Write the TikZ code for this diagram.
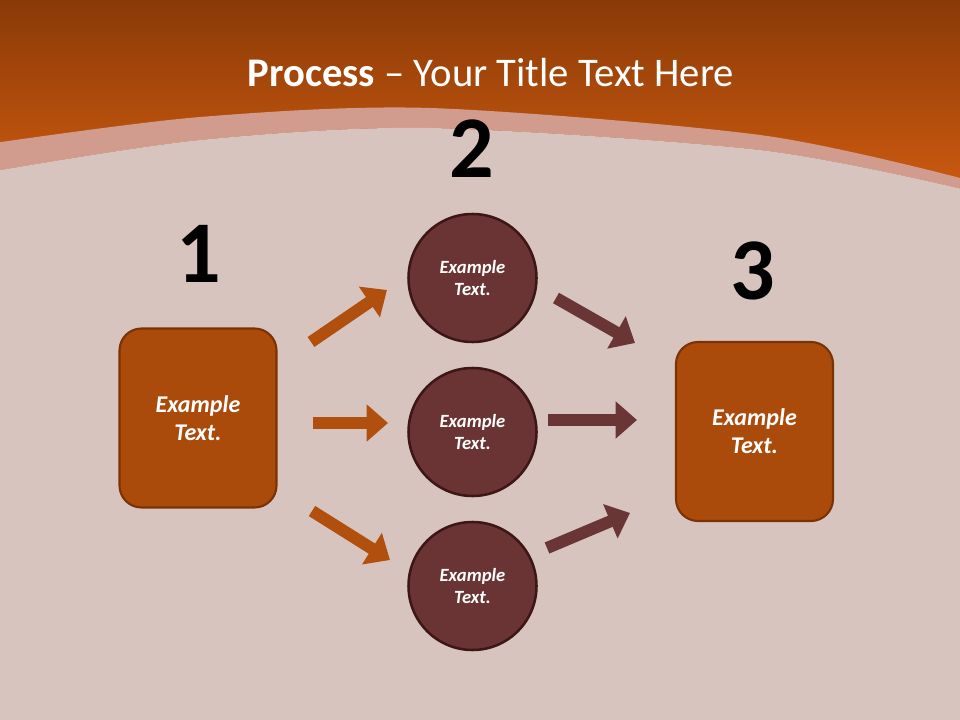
\documentclass[tikz,border=0pt]{standalone}
\usepackage{fontspec}
\setmainfont{Carlito}
\usetikzlibrary{arrows.meta}
\definecolor{bgc}{HTML}{D7C4BE}
\definecolor{hdtop}{HTML}{8A3A07}
\definecolor{hdbot}{HTML}{CC5A10}
\definecolor{bandc}{HTML}{D19C8E}
\definecolor{boxfill}{HTML}{AA4B0C}
\definecolor{boxline}{HTML}{7B3306}
\definecolor{cfill}{HTML}{6B3434}
\definecolor{cline}{HTML}{3D1616}
\definecolor{oarrow}{HTML}{B04F0E}
\definecolor{barrow}{HTML}{6A3535}
\tikzset{
  boxnode/.style={draw=boxline, fill=boxfill, line width=1.6pt, rounded corners=16.5pt,
    minimum width=117.75pt, minimum height=134.25pt, inner sep=0pt, align=center,
    text=white, font=\fontsize{18}{21}\selectfont\bfseries\itshape},
  circnode/.style={circle, draw=cline, fill=cfill, line width=1.9pt, minimum size=96pt,
    inner sep=0pt, align=center, text=white, font=\fontsize{14}{17}\selectfont\bfseries\itshape},
  numnode/.style={anchor=base, font=\fontsize{66}{70}\selectfont\bfseries, text=black, inner sep=0pt},
  oarr/.style={draw=oarrow, line width=9pt, -{Triangle[width=27pt,length=16pt]}},
  barr/.style={draw=barrow, line width=9pt, -{Triangle[width=27pt,length=16pt]}}
}
\begin{document}
\begin{tikzpicture}[x=0.75pt,y=-0.75pt]
\useasboundingbox (0,0) rectangle (960,720);
% background
\fill[bgc] (0,0) rectangle (960,720);
\shade[top color=hdtop, bottom color=hdbot] (0,0) rectangle (960,190);
% band
\fill[bandc] plot[smooth] coordinates {(-2,142.5) (200,117) (430,108) (760,135) (962,178.5)}
  -- (962,189) -- plot[smooth] coordinates {(962,189) (760,150) (430,128) (200,140) (-2,170.5)} -- cycle;
\fill[bgc] plot[smooth] coordinates {(-2,170.5) (200,140) (430,128) (760,150) (962,189)}
  -- (962,200) -- (-2,200) -- cycle;
% title
\node[anchor=base, text=white, font=\fontsize{30.5}{34}\selectfont, inner sep=0pt] (title) at (491,87)
  {\textbf{Process} – Your Title Text Here};
% numbers
\node[numnode] (n1) at (199,283) {1};
\node[numnode] (n2) at (472,178) {2};
\node[numnode] (n3) at (753,300) {3};
% boxes
\node[boxnode] (b1) at (198,418) {Example\\Text.};
\node[boxnode] (b3) at (754.5,431.5) {Example\\Text.};
% circles
\node[circnode] (c1) at (472.5,278) {Example\\Text.};
\node[circnode] (c2) at (472.5,432) {Example\\Text.};
\node[circnode] (c3) at (472.5,586) {Example\\Text.};
% arrow end coordinates
\coordinate (a1s) at (311,342);
\coordinate (a1e) at (387,290);
\coordinate (a2s) at (313,423);
\coordinate (a2e) at (388,423);
\coordinate (a3s) at (312,511);
\coordinate (a3e) at (390,560);
\coordinate (a4s) at (556,298);
\coordinate (a4e) at (635,343);
\coordinate (a5s) at (548,420);
\coordinate (a5e) at (637,420);
\coordinate (a6s) at (547,548);
\coordinate (a6e) at (630,513);
\draw[oarr] (a1s) -- (a1e);
\draw[oarr] (a2s) -- (a2e);
\draw[oarr] (a3s) -- (a3e);
\draw[barr] (a4s) -- (a4e);
\draw[barr] (a5s) -- (a5e);
\draw[barr] (a6s) -- (a6e);
\end{tikzpicture}
\end{document}
